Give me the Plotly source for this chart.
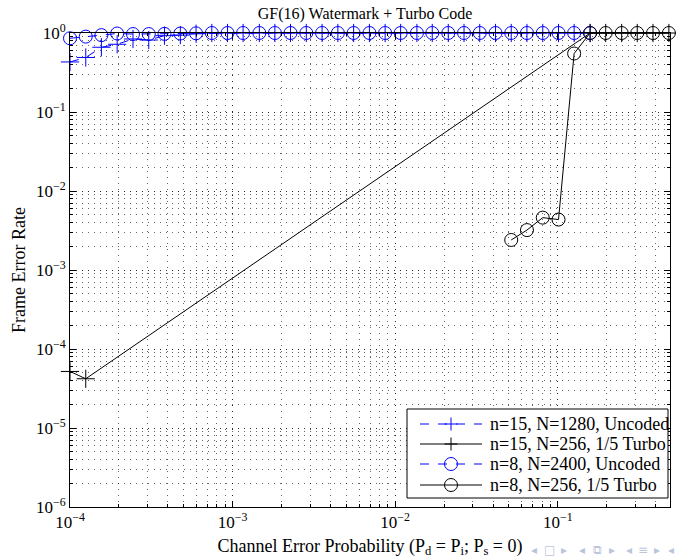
import plotly.graph_objects as go

# Channel error probabilities (shared sweep grid)
p_channel = [1.00e-4, 1.25e-4, 1.56e-4, 1.95e-4, 2.44e-4, 3.05e-4, 3.81e-4, 4.77e-4,
             5.96e-4, 7.45e-4, 9.31e-4, 1.16e-3, 1.46e-3, 1.82e-3, 2.27e-3, 2.84e-3,
             3.55e-3, 4.44e-3, 5.55e-3, 6.94e-3, 8.67e-3, 1.08e-2, 1.36e-2, 1.69e-2,
             2.12e-2, 2.65e-2, 3.31e-2, 4.14e-2, 5.17e-2, 6.46e-2, 8.08e-2, 0.101,
             0.126, 0.158, 0.197, 0.247, 0.308, 0.385, 0.482]

# n=15, N=1280, uncoded
fer_n15_uncoded = [0.43, 0.49, 0.66, 0.72, 0.84, 0.815, 0.925, 0.94, 0.98, 1, 1, 1,
                   1, 1, 1, 1, 1, 1, 1, 1, 1, 1, 1, 1, 1, 1, 1, 1, 1, 1, 1, 1, 1, 1]

# n=15, N=256, 1/5 turbo (None = no frame errors observed)
fer_n15_turbo = [5.2e-5, 4.2e-5, None, None, None, None, None, None, None, None,
                 None, None, None, None, None, None, None, None, None, None, None,
                 None, None, None, None, None, None, None, None, None, None, None,
                 None, 1, 1, 1, 1, 1, 1]

# n=8, N=2400, uncoded
fer_n8_uncoded = [0.857, 0.90, 0.94, 0.985, 0.97, 0.97, 0.975, 0.985, 0.99, 1, 1, 1,
                  1, 1, 1, 1, 1, 1, 1, 1, 1, 1, 1, 1, 1, 1, 1, 1, 1, 1, 1, 1, 1, 1]

# n=8, N=256, 1/5 turbo
p_n8_turbo = [0.0517, 0.0646, 0.0808, 0.101, 0.126, 0.158, 0.197, 0.247, 0.308, 0.385, 0.482]
fer_n8_turbo = [2.4e-3, 3.2e-3, 4.6e-3, 4.35e-3, 0.55, 1, 1, 1, 1, 1, 1]

series_names = ["n=15, N=1280, Uncoded", "n=15, N=256, 1/5 Turbo",
                "n=8, N=2400, Uncoded", "n=8, N=256, 1/5 Turbo"]

x_decades = [-4, -3, -2, -1]
y_decades = [-6, -5, -4, -3, -2, -1, 0]

SERIF = "Liberation Serif, Times New Roman, serif"
BLUE = "#0000ff"
BLACK = "#000000"

W, H = 676, 560
M_L, M_R, M_T, M_B = 70, 6, 33, 53
PW, PH = W - M_L - M_R, H - M_T - M_B


def fx(px):
    """Pixel column -> paper x fraction."""
    return (px - M_L) / PW


def fy(py):
    """Pixel row -> paper y fraction."""
    return (H - M_B - py) / PH


def sup_label(e):
    return "10<sup>" + (str(e) if e >= 0 else "\u2212" + str(-e)) + "</sup>"


styles = [
    dict(color=BLUE, dash="dash", symbol="cross-thin-open"),
    dict(color=BLACK, dash="solid", symbol="cross-thin-open"),
    dict(color=BLUE, dash="dash", symbol="circle-open"),
    dict(color=BLACK, dash="solid", symbol="circle-open"),
]
series_x = [p_channel[:len(fer_n15_uncoded)], p_channel,
            p_channel[:len(fer_n8_uncoded)], p_n8_turbo]
series_y = [fer_n15_uncoded, fer_n15_turbo, fer_n8_uncoded, fer_n8_turbo]

fig = go.Figure()
for name, xs, ys, st in zip(series_names, series_x, series_y, styles):
    fig.add_trace(go.Scatter(
        x=xs, y=ys, name=name, mode="lines+markers", connectgaps=True,
        line=dict(color=st["color"], width=1, dash=st["dash"]),
        marker=dict(symbol=st["symbol"], size=13, color=st["color"],
                    line=dict(color=st["color"], width=1)),
        cliponaxis=False, showlegend=False))

grid_color = "rgba(0,0,0,0.6)"
grid_dash = "1px,5px"

axis_common = dict(
    type="log", tickmode="array",
    showline=True, linecolor=BLACK, linewidth=1, mirror="allticks",
    ticks="inside", ticklen=6, tickcolor=BLACK,
    showgrid=True, gridcolor=grid_color, griddash=grid_dash, gridwidth=1,
    zeroline=False,
    tickfont=dict(family=SERIF, size=17, color=BLACK),
    minor=dict(dtick="D1", ticks="inside", ticklen=3, tickcolor=BLACK,
               showgrid=True, gridcolor=grid_color, griddash=grid_dash, gridwidth=1),
)

fig.update_xaxes(
    **axis_common, range=[-4, -0.31],
    tickvals=[10 ** e for e in x_decades], ticktext=[sup_label(e) for e in x_decades],
    title=dict(text="Channel Error Probability (P<sub>d</sub> = P<sub>i</sub>; P<sub>s</sub> = 0)",
               font=dict(family=SERIF, size=18, color=BLACK), standoff=7))
fig.update_yaxes(
    **axis_common, range=[-6, 0],
    tickvals=[10 ** e for e in y_decades], ticktext=[sup_label(e) for e in y_decades],
    title=dict(text="Frame Error Rate", font=dict(family=SERIF, size=18, color=BLACK),
               standoff=5))

# Legend box drawn in pixel layout terms
box_l, box_r, box_t, box_b = 407, 668, 409, 498
row_y = [424, 444, 464, 485]
samp_l, samp_r, samp_c, text_x = 420, 482, 451, 488

shapes = [dict(type="rect", xref="paper", yref="paper",
               x0=fx(box_l), x1=fx(box_r), y0=fy(box_b), y1=fy(box_t),
               line=dict(color=BLACK, width=1), fillcolor="white", layer="above")]
annotations = []
for name, st, ry in zip(series_names, styles, row_y):
    shapes.append(dict(type="line", xref="paper", yref="paper",
                       x0=fx(samp_l), x1=fx(samp_r), y0=fy(ry), y1=fy(ry),
                       line=dict(color=st["color"], width=1,
                                 dash="9px,9px" if st["dash"] == "dash" else "solid"),
                       layer="above"))
    if st["symbol"] == "circle-open":
        shapes.append(dict(type="circle", xref="paper", yref="paper",
                           xsizemode="pixel", ysizemode="pixel",
                           xanchor=fx(samp_c), yanchor=fy(ry),
                           x0=-6.5, x1=6.5, y0=-6.5, y1=6.5,
                           line=dict(color=st["color"], width=1), layer="above"))
    else:
        shapes.append(dict(type="path", xref="paper", yref="paper",
                           xsizemode="pixel", ysizemode="pixel",
                           xanchor=fx(samp_c), yanchor=fy(ry),
                           path="M -6.5 0 L 6.5 0 M 0 -6.5 L 0 6.5",
                           line=dict(color=st["color"], width=1), layer="above"))
    annotations.append(dict(text=name, xref="paper", yref="paper",
                            x=fx(text_x), y=fy(ry), xanchor="left", yanchor="middle",
                            showarrow=False,
                            font=dict(family=SERIF, size=18, color=BLACK)))

# Presentation navigation glyphs along the bottom edge
nav_glyphs = ["◂", "□", "▸", "◂", "⧉", "▸", "◂", "≡", "▸", "◂"]
nav_px = [534, 549, 564, 582, 597, 612, 629, 643, 657, 671]
for g, gx in zip(nav_glyphs, nav_px):
    annotations.append(dict(text=g, xref="paper", yref="paper",
                            x=fx(gx), y=fy(550), xanchor="center", yanchor="middle",
                            showarrow=False,
                            font=dict(family="DejaVu Sans", size=12, color="#bcc4dc")))

fig.update_layout(
    width=W, height=H,
    margin=dict(l=M_L, r=M_R, t=M_T, b=M_B),
    paper_bgcolor="white", plot_bgcolor="white",
    title=dict(text="GF(16) Watermark + Turbo Code", x=0.540, xanchor="center",
               y=1 - 13 / H, yanchor="middle",
               font=dict(family=SERIF, size=16, color=BLACK)),
    shapes=shapes, annotations=annotations,
    showlegend=False,
)

fig.write_html("out.html")
